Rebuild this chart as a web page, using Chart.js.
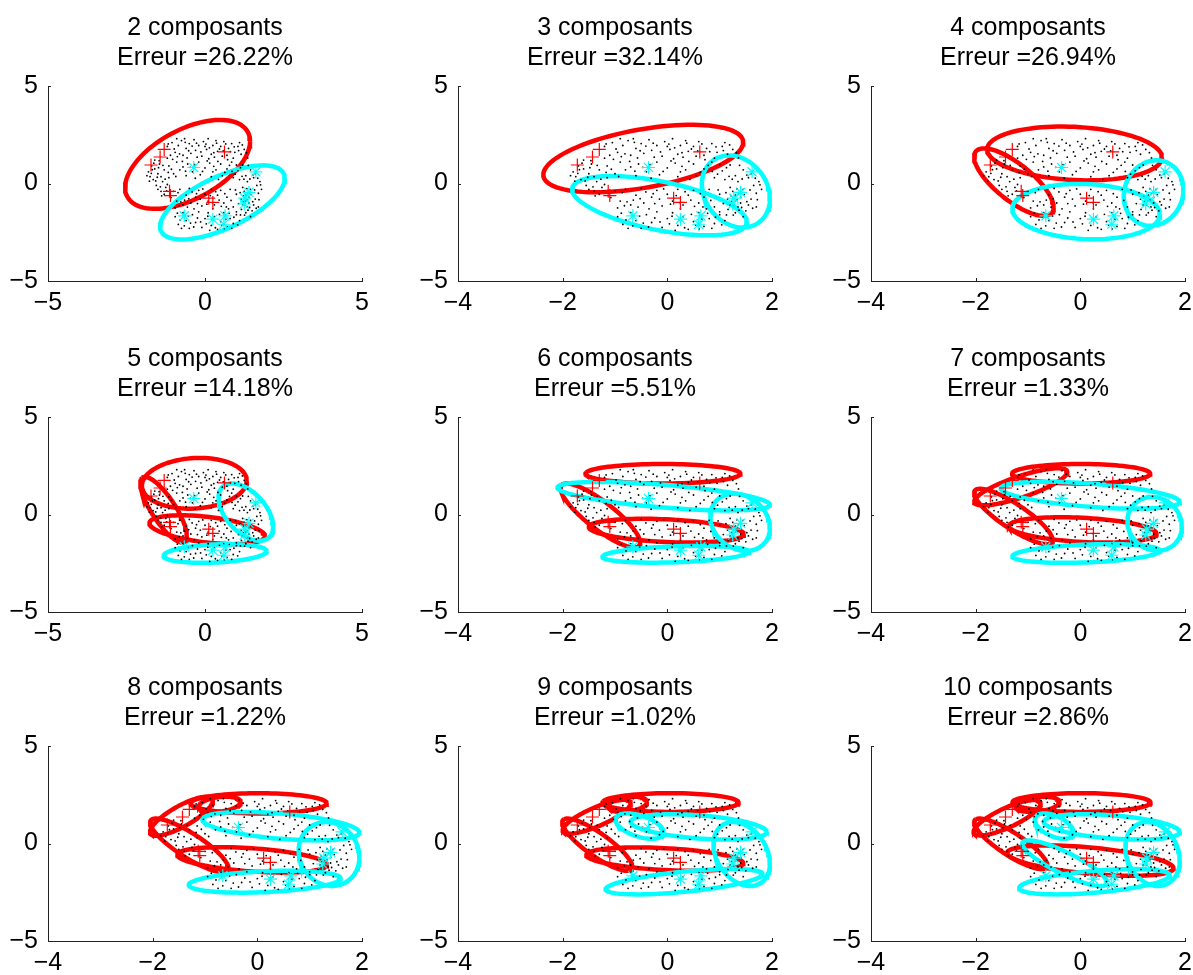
<!DOCTYPE html>
<html><head><meta charset="utf-8">
<script src="https://cdn.jsdelivr.net/npm/chart.js@4.4.0/dist/chart.umd.min.js"></script>
<style>
html,body{margin:0;padding:0;background:#fff;overflow:hidden;width:1193px;height:975px;position:relative;}
canvas{position:absolute;}
</style></head><body>
<script>
// ---------- data ----------
const components = [2, 3, 4, 5, 6, 7, 8, 9, 10];
const errors = ['26.22', '32.14', '26.94', '14.18', '5.51', '1.33', '1.22', '1.02', '2.86'];
const xMins = [-5, -4, -4, -5, -4, -4, -4, -4, -4];
const xMaxs = [5, 2, 2, 5, 2, 2, 2, 2, 2];
const xSteps = [5, 2, 2, 5, 2, 2, 2, 2, 2];
const yTicks = [-5, 0, 5];

// black sample points
const dots = [
 [-1.2,1.9],[-1.05,2.1],[-0.95,1.6],[-0.85,1.95],[-0.75,2.2],[-0.7,1.45],[-0.6,1.8],[-0.5,2.05],[-0.45,1.55],[-0.35,2.25],
 [-0.3,1.7],[-0.2,1.95],[-0.1,1.4],[-0.05,2.15],[0.05,1.75],[0.1,2.3],[0.2,1.5],[0.25,1.95],[0.35,2.2],[0.4,1.65],
 [0.5,1.9],[0.6,2.15],[0.7,1.45],[0.75,1.8],[0.85,2.05],[0.95,1.6],[1.05,1.9],[1.15,1.5],[1.25,1.75],[-1.1,1.45],
 [-0.25,1.35],[0.3,1.35],[0.9,1.3],[-0.65,2.3],[0.0,1.9],[-0.9,2.3],[0.55,1.4],[1.1,2.1],
 [-1.17,2.03],[-0.98,1.77],[-0.81,1.52],[-0.63,2.11],[-0.52,1.68],[-0.41,1.92],[-0.27,2.07],[-0.13,1.62],[0.03,2.02],[0.14,1.83],
 [0.28,1.58],[0.37,2.07],[0.46,1.77],[0.58,1.67],[0.66,2.03],[0.81,1.63],[0.93,1.88],[1.07,1.69],[1.19,1.98],[1.32,1.58],
 [-0.88,1.38],[-0.57,1.31],[0.12,1.27],[0.72,1.22],[-1.03,1.24],[1.36,1.31],
 [-1.15,0.9],[-1.0,0.5],[-0.9,1.1],[-0.8,0.7],[-0.6,0.4],[-0.55,1.0],[-0.4,0.6],[-0.2,1.1],[-0.15,0.45],[0.0,0.8],
 [0.15,1.05],[0.2,0.35],[0.35,0.7],[0.5,1.0],[0.55,0.4],[0.7,0.75],[0.85,1.1],[0.9,0.3],[1.05,0.65],[1.2,0.95],
 [1.3,0.4],[1.45,0.7],[-0.7,0.85],[0.25,0.6],[1.0,0.95],
 [-1.07,0.73],[-0.93,0.36],[-0.72,1.13],[-0.47,0.83],[-0.31,0.27],[-0.08,0.62],[0.07,1.16],[0.28,0.88],[0.43,0.21],[0.63,0.57],
 [0.78,0.93],[0.96,0.48],[1.13,0.81],[1.24,0.22],[1.38,0.93],[-0.33,0.97],[0.41,1.13],[-0.62,0.63],[0.86,0.62],[1.52,0.43],
 [-1.8,0.6],[-1.7,0.9],[-1.65,0.2],[-1.6,1.2],[-1.55,-0.1],[-1.5,0.5],[-1.45,1.0],[-1.4,-0.4],[-1.35,0.1],[-1.3,0.7],
 [-1.25,-0.2],[-1.2,1.3],[-1.15,0.3],[-1.75,0.35],[-1.6,0.75],[-1.5,-0.3],[-1.3,-0.55],[-1.85,0.4],[-1.4,0.35],[-1.2,-0.05],
 [-1.71,0.52],[-1.63,1.04],[-1.57,0.13],[-1.48,0.81],[-1.42,-0.17],[-1.34,0.93],[-1.27,0.22],[-1.22,-0.38],[-1.52,0.32],[-1.68,0.71],
 [-1.38,-0.63],[-1.17,0.57],[-1.46,1.17],[-1.77,0.12],
 [-1.0,-0.4],[-0.9,-0.9],[-0.8,-0.3],[-0.7,-1.1],[-0.6,-0.6],[-0.5,-0.25],[-0.45,-1.0],[-0.3,-0.7],[-0.2,-0.35],[-0.1,-1.15],
 [0.0,-0.55],[0.1,-0.9],[0.2,-0.3],[0.3,-1.1],[0.4,-0.6],[0.5,-0.35],[0.6,-1.0],[0.7,-0.7],[0.8,-0.3],[0.9,-1.2],
 [1.0,-0.55],[-0.95,-1.25],[-0.35,-1.3],[0.25,-1.3],[0.75,-1.3],[-0.65,-0.85],[0.45,-0.85],[-0.15,-0.8],
 [-1.08,-0.72],[-0.86,-0.47],[-0.77,-0.94],[-0.56,-1.21],[-0.41,-0.43],[-0.24,-1.03],[-0.07,-0.28],[0.06,-1.06],[0.17,-0.62],[0.34,-0.42],
 [0.52,-1.17],[0.63,-0.52],[0.83,-0.87],[0.97,-0.33],[1.07,-1.03],[-0.52,-0.78],[0.24,-0.98],[-0.82,-1.14],[0.68,-1.2],[-0.27,-0.52],
 [1.1,0.2],[1.2,-0.2],[1.3,-0.6],[1.35,0.1],[1.4,-1.0],[1.45,-0.3],[1.5,-1.4],[1.55,0.3],[1.6,-0.8],[1.65,-0.1],
 [1.7,-0.5],[1.75,0.1],[1.2,-1.1],[1.3,-1.5],[1.15,-0.8],[1.25,-0.4],[1.4,-0.7],[1.35,-1.2],[1.55,-1.1],[1.7,-1.2],
 [1.0,-1.6],[1.45,-1.7],[1.6,0.5],[1.8,-0.3],[1.3,-0.9],[1.28,-0.75],
 [1.12,-0.47],[1.18,0.37],[1.23,-0.93],[1.33,-0.27],[1.37,-1.37],[1.43,0.23],[1.47,-0.57],[1.52,-0.93],[1.58,-0.33],[1.63,-1.27],
 [1.68,0.27],[1.72,-0.83],[1.77,-0.07],[1.16,-1.33],[1.26,-1.62],[1.42,-1.23],[1.33,-0.83],[1.22,-0.63],[1.36,-0.48],[1.27,-1.12],
 [-0.95,-1.7],[-0.85,-2.1],[-0.7,-1.5],[-0.6,-1.9],[-0.5,-2.3],[-0.4,-1.6],[-0.3,-2.0],[-0.2,-1.45],[-0.1,-2.25],[0.0,-1.8],
 [0.1,-1.5],[0.2,-2.15],[0.3,-1.7],[0.4,-2.35],[0.5,-1.95],[0.6,-1.5],[0.7,-2.2],[0.8,-1.8],[0.9,-2.05],[1.0,-1.45],
 [1.1,-1.9],[-0.75,-2.3],[0.15,-2.4],[0.85,-2.3],
 [-0.88,-1.52],[-0.79,-1.87],[-0.66,-2.17],[-0.53,-1.67],[-0.36,-2.23],[-0.24,-1.77],[-0.14,-1.97],[0.04,-2.07],[0.09,-1.68],[0.23,-1.87],
 [0.33,-2.27],[0.46,-1.58],[0.54,-2.13],[0.66,-1.83],[0.77,-1.53],[0.92,-1.73],[1.04,-2.12],[1.13,-1.61],[-0.46,-2.03],[0.61,-2.33]
];

const redMarkers = [[-1.72,0.95],[-1.43,1.36],[-1.3,1.75],[0.62,1.62],[-1.13,-0.4],[-1.1,-0.62],[0.12,-0.75],[0.25,-0.97]];
const cyanMarkers = [[-0.36,0.82],[1.62,0.6],[-0.66,-1.66],[0.25,-1.83],[0.64,-1.66],[0.6,-2.09],[1.27,-0.75],[1.4,-0.45],[1.25,-1.05]];

// Gaussian component ellipses per subplot: [centre x, centre y, half-width, half-height, correlation]
const redEllipses = [
 [[-0.555,0.98,1.99,2.28,0.52]],
 [[-0.46,1.28,1.91,1.73,0.48]],
 [[-0.11,1.54,1.67,1.38,-0.15],[-1.27,0.07,0.76,1.73,-0.75]],
 [[-0.34,1.6,1.67,1.3,0.1],[-1.32,0.25,0.74,1.68,-0.8],[0.07,-0.78,1.84,0.74,-0.45]],
 [[-0.085,2.09,1.48,0.5,0],[-1.28,-0.05,0.76,1.64,-0.85],[-0.02,-0.83,1.48,0.61,-0.3]],
 [[0.015,2.09,1.32,0.5,0],[-1.14,1.42,0.89,0.95,0.8],[-1.28,-0.1,0.75,1.42,-0.85],[0.045,-0.79,1.41,0.65,-0.3]],
 [[0.025,2.06,1.3,0.52,0],[-0.72,2.01,0.4,0.39,0.3],[-1.45,1.4,0.6,1.0,0.8],[-1.3,-0.1,0.75,1.38,-0.85],[-0.1,-0.84,1.43,0.65,-0.4]],
 [[0.06,2.1,1.3,0.48,0],[-0.76,2.01,0.37,0.39,0.3],[-1.35,1.37,0.65,0.87,0.8],[-1.34,-0.06,0.67,1.34,-0.85],[-0.05,-0.8,1.5,0.6,-0.35]],
 [[0.02,2.1,1.32,0.48,0],[-0.82,2.01,0.42,0.39,0.3],[-1.4,1.32,0.64,0.91,0.8],[-1.33,-0.02,0.7,1.3,-0.85],[0.19,-0.88,1.59,0.78,-0.5]]
];
const cyanEllipses = [
 [[0.555,-0.97,1.985,1.9,0.65]],
 [[-0.15,-1.14,1.67,1.52,-0.55],[1.31,-0.41,0.65,1.85,-0.2]],
 [[0.11,-1.44,1.41,1.42,-0.1],[1.4,-0.49,0.57,1.68,0.1]],
 [[1.3,0.12,0.87,1.47,-0.5],[0.32,-2.0,1.64,0.48,0.25]],
 [[-0.07,0.94,2.03,0.73,-0.6],[1.39,-0.4,0.57,1.47,-0.2],[0.16,-2.04,1.4,0.43,0.3]],
 [[0.19,0.99,1.71,0.69,-0.5],[1.42,-0.48,0.52,1.38,-0.1],[0.11,-2.0,1.41,0.48,0.3]],
 [[0.45,0.89,1.5,0.73,-0.45],[1.37,-0.54,0.58,1.64,-0.1],[0.14,-1.96,1.45,0.56,0.3]],
 [[-0.53,0.89,0.46,0.65,-0.5],[0.6,0.85,1.3,0.65,-0.4],[1.42,-0.54,0.54,1.64,-0.3],[0.32,-1.96,1.5,0.65,0.6]],
 [[-0.5,0.89,0.37,0.65,-0.5],[0.6,0.85,1.3,0.65,-0.4],[1.38,-0.54,0.52,1.64,-0.2],[0.27,-1.96,1.44,0.65,0.5],[-0.3,-1.01,0.81,1.17,-0.85]]
];

// ---------- layout ----------
const colLeft = [48, 458, 871];
const rowTop = [86, 417, 746];
const PW = 314, PH = 195, ML = 48, MT = 86, MR = 48, MB = 40;

Chart.defaults.font.family = "'Liberation Sans', Arial, Helvetica, sans-serif";
Chart.defaults.font.size = 25;
Chart.defaults.color = '#000';

function ellipsePts(e) {
  const [cx, cy, a, b, r] = e;
  const s = Math.sqrt(1 - r * r);
  const pts = [];
  const n = 96;
  for (let i = 0; i <= n; i++) {
    const t = 2 * Math.PI * i / n;
    pts.push({x: cx + a * Math.cos(t), y: cy + b * (r * Math.cos(t) + s * Math.sin(t))});
  }
  return pts;
}
const toPts = arr => arr.map(p => ({x: p[0], y: p[1]}));
const fmt = v => (v < 0 ? '\u2212' + Math.abs(v) : String(v));

const inwardTicks = {
  id: 'inwardTicks',
  afterDraw(chart) {
    const {ctx, chartArea} = chart;
    const xs = chart.scales.x, ys = chart.scales.y;
    ctx.save();
    ctx.strokeStyle = '#222';
    ctx.lineWidth = 1;
    ctx.beginPath();
    xs.ticks.forEach(t => {
      const px = Math.round(xs.getPixelForValue(t.value)) + 0.5;
      ctx.moveTo(px, chartArea.bottom);
      ctx.lineTo(px, chartArea.bottom - 3);
    });
    ys.ticks.forEach(t => {
      const py = Math.round(ys.getPixelForValue(t.value)) + 0.5;
      ctx.moveTo(chartArea.left, py);
      ctx.lineTo(chartArea.left + 3, py);
    });
    ctx.stroke();
    ctx.restore();
  }
};

components.forEach((n, k) => {
  const col = k % 3, row = Math.floor(k / 3);
  const cv = document.createElement('canvas');
  cv.width = ML + PW + MR;
  cv.height = MT + PH + MB;
  cv.style.left = (colLeft[col] - ML) + 'px';
  cv.style.top = (rowTop[row] - MT) + 'px';
  document.body.appendChild(cv);

  const datasets = [];
  redEllipses[k].forEach(e => datasets.push({
    data: ellipsePts(e), showLine: true, pointRadius: 0, borderColor: '#ff0000',
    borderWidth: 4.5, fill: false, tension: 0, order: 4
  }));
  cyanEllipses[k].forEach(e => datasets.push({
    data: ellipsePts(e), showLine: true, pointRadius: 0, borderColor: '#00ffff',
    borderWidth: 4.5, fill: false, tension: 0, order: 3
  }));
  datasets.push({data: toPts(dots), pointRadius: 0.9, pointBorderWidth: 0,
    backgroundColor: '#000', borderColor: '#000', order: 2});
  datasets.push({data: toPts(redMarkers), pointStyle: 'cross', pointRadius: 6.5,
    pointBorderWidth: 1.2, borderColor: '#ff0000', backgroundColor: '#ff0000', order: 1});
  datasets.push({data: toPts(cyanMarkers), pointStyle: 'star', pointRadius: 6.5,
    pointBorderWidth: 1.2, borderColor: '#00ffff', backgroundColor: '#00ffff', order: 0});

  new Chart(cv, {
    type: 'scatter',
    data: {datasets},
    plugins: [inwardTicks],
    options: {
      responsive: false,
      animation: false,
      events: [],
      layout: {padding: {left: 0, right: MR, top: 0, bottom: 0}},
      plugins: {
        legend: {display: false},
        tooltip: {enabled: false},
        title: {
          display: true,
          fullSize: false,
          text: [n + ' composants', 'Erreur =' + errors[k] + '%'],
          color: '#000',
          font: {size: 25, weight: 'normal', lineHeight: 1.176},
          padding: {top: 13.6, bottom: 13.6}
        }
      },
      scales: {
        x: {
          type: 'linear', min: xMins[k], max: xMaxs[k],
          grid: {display: false, drawTicks: false},
          border: {display: true, color: '#222', width: 1},
          ticks: {stepSize: xSteps[k], padding: 7, maxRotation: 0, autoSkip: false,
            color: '#000', font: {size: 25}, callback: v => fmt(v)},
          afterFit: s => { s.height = MB; }
        },
        y: {
          type: 'linear', min: yTicks[0], max: yTicks[2],
          grid: {display: false, drawTicks: false},
          border: {display: true, color: '#222', width: 1},
          ticks: {stepSize: 5, padding: 10, color: '#000', font: {size: 25}, callback: v => fmt(v)},
          afterFit: s => { s.width = ML; }
        }
      }
    }
  });
});
</script>
</body></html>
